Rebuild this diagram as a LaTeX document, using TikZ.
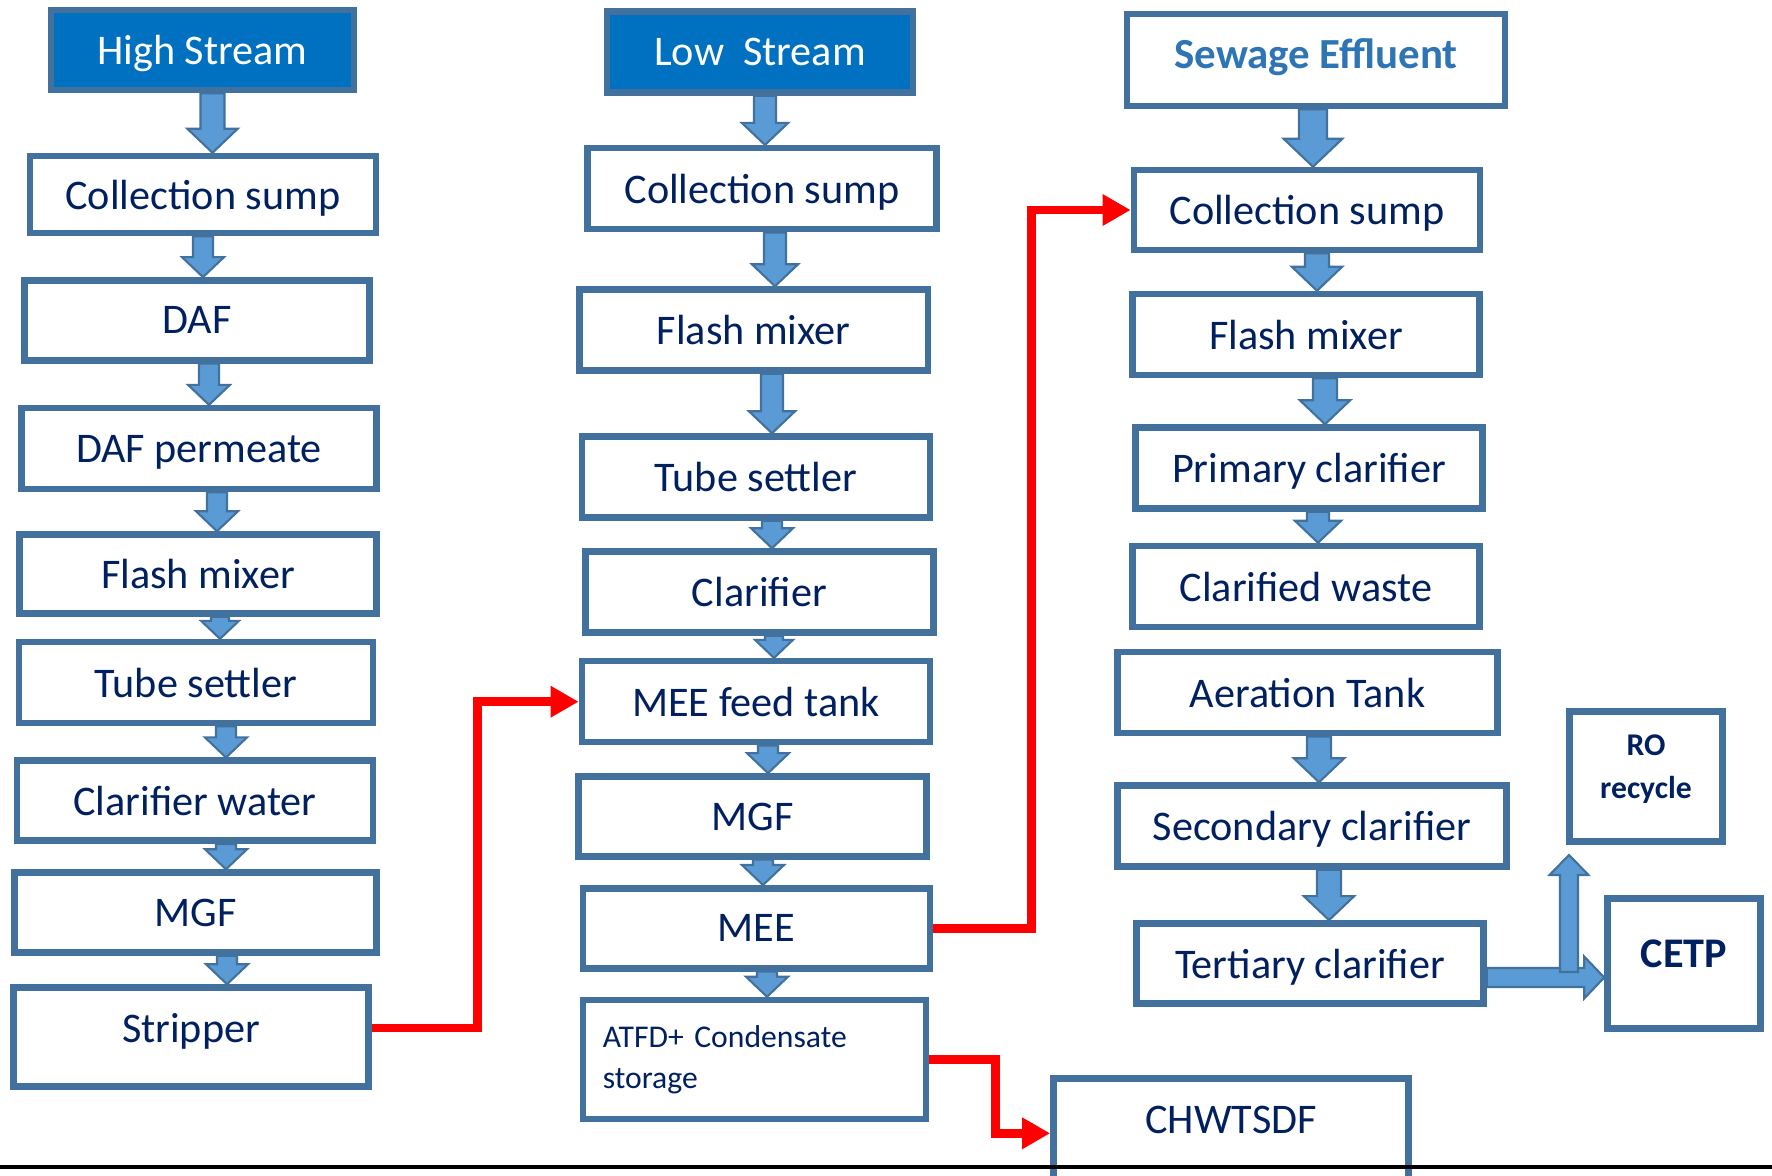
\documentclass[tikz,border=0pt]{standalone}
\usepackage{fontspec}
\setmainfont{Carlito}
\usepackage{tikz}
\usetikzlibrary{calc,arrows.meta}
\definecolor{boxline}{RGB}{65,113,156}
\definecolor{arrowfill}{RGB}{91,155,213}
\definecolor{headfill}{RGB}{0,112,192}
\definecolor{navytext}{RGB}{0,32,96}
\definecolor{sewageblue}{RGB}{46,117,182}

\tikzset{
  box/.style={draw=boxline, line width=1.85pt, fill=white, text=navytext,
    font=\fontsize{12}{14}\selectfont, inner sep=2pt, text depth=0pt},
  stream/.style={box, fill=headfill, text=white},
  flowarrow/.style={fill=arrowfill, draw=boxline, line width=0.6pt},
  redflow/.style={draw=red, line width=2.5pt, -{Triangle[length=8pt,width=8.5pt]}}
}

% block arrow: from, to, x (px), size
\newcommand{\flowdown}[4]{%
  \path[flowarrow] let \p1=(#1.south), \p2=(#2.north), \p3=(#3,0) in
    (\x3-#4*0.10cm,\y1) -- (\x3+#4*0.10cm,\y1) -- (\x3+#4*0.10cm,\y2+#4*0.20cm)
    -- (\x3+#4*0.21cm,\y2+#4*0.20cm) -- (\x3,\y2) -- (\x3-#4*0.21cm,\y2+#4*0.20cm)
    -- (\x3-#4*0.10cm,\y2+#4*0.20cm) -- cycle;}

\begin{document}
\begin{tikzpicture}[x=0.01cm, y=-0.01cm]
\useasboundingbox (0,0) rectangle (1772,1175);
\clip (0,0) rectangle (1772,1175);

% high stream
\node[stream, minimum width=3.03cm, minimum height=0.80cm] (h0) at (202.5,50) {High Stream};
\node[box, minimum width=3.46cm, minimum height=0.77cm] (h1) at (203,194.5) {Collection sump};
\node[box, minimum width=3.45cm, minimum height=0.80cm] (h2) at (197,320.4) {DAF};
\node[box, minimum width=3.55cm, minimum height=0.81cm] (h3) at (199,448.6) {DAF permeate};
\node[box, minimum width=3.57cm, minimum height=0.79cm] (h4) at (198,574) {Flash mixer};
\node[box, minimum width=3.54cm, minimum height=0.81cm] (h5) at (196,682.6) {Tube settler};
\node[box, minimum width=3.56cm, minimum height=0.80cm] (h6) at (195,800.7) {Clarifier water};
\node[box, minimum width=3.62cm, minimum height=0.80cm] (h7) at (195.5,912.5) {MGF};
\node[box, minimum width=3.55cm, minimum height=0.99cm, text depth=0.18cm] (h8) at (191,1037) {Stripper};

% low stream
\node[stream, minimum width=3.06cm, minimum height=0.81cm] (l0) at (760,52) {Low\ \ Stream};
\node[box, minimum width=3.49cm, minimum height=0.81cm] (l1) at (762,188.7) {Collection sump};
\node[box, minimum width=3.48cm, minimum height=0.81cm] (l2) at (753.7,330) {Flash mixer};
\node[box, minimum width=3.48cm, minimum height=0.81cm] (l3) at (756,477) {Tube settler};
\node[box, minimum width=3.48cm, minimum height=0.81cm] (l4) at (759.4,592) {Clarifier};
\node[box, minimum width=3.48cm, minimum height=0.81cm] (l5) at (756,701.7) {MEE feed tank};
\node[box, minimum width=3.48cm, minimum height=0.80cm] (l6) at (752.6,816.4) {MGF};
\node[box, minimum width=3.47cm, minimum height=0.80cm] (l7) at (756.5,928.3) {MEE};
\node[box, minimum width=3.43cm, minimum height=1.19cm, text width=3.03cm, align=left,
  text depth=, font=\fontsize{9}{11.8}\selectfont] (l8) at (754.4,1059.5) {ATFD+ Condensate\\storage};

% sewage
\node[box, minimum width=3.78cm, minimum height=0.92cm, text=sewageblue, text depth=0.13cm,
  font=\bfseries\fontsize{12.2}{14}\selectfont] (s0) at (1316,60) {Sewage Effluent};
\node[box, minimum width=3.46cm, minimum height=0.80cm] (s1) at (1307,210) {Collection sump};
\node[box, minimum width=3.47cm, minimum height=0.81cm] (s2) at (1306,334.5) {Flash mixer};
\node[box, minimum width=3.47cm, minimum height=0.81cm] (s3) at (1309,468) {Primary clarifier};
\node[box, minimum width=3.47cm, minimum height=0.81cm] (s4) at (1306,586.5) {Clarified waste};
\node[box, minimum width=3.80cm, minimum height=0.81cm] (s5) at (1307.5,692.7) {Aeration Tank};
\node[box, minimum width=3.89cm, minimum height=0.81cm] (s6) at (1312,826) {Secondary clarifier};
\node[box, minimum width=3.47cm, minimum height=0.80cm] (s7) at (1310,963.4) {Tertiary clarifier};
\node[box, minimum width=1.53cm, minimum height=1.30cm, align=center, text depth=0.2cm,
  font=\bfseries\fontsize{9}{12}\selectfont] (ro) at (1646,776.7) {RO\\recycle};
\node[box, minimum width=1.53cm, minimum height=1.30cm, text depth=0.2cm,
  font=\bfseries\fontsize{12}{14}\selectfont] (cetp) at (1684,963.3) {CETP};
\node[box, minimum width=3.55cm, anchor=north, inner ysep=0.15cm, text height=0.40cm,
  text depth=1cm] (chw) at (1231,1075) {CHWTSDF};

% block arrows
\flowdown{h0}{h1}{212.5}{1.2}
\flowdown{h1}{h2}{203}{1}
\flowdown{h2}{h3}{209}{1}
\flowdown{h3}{h4}{217}{1}
\flowdown{h4}{h5}{220}{0.9}
\flowdown{h5}{h6}{226}{1}
\flowdown{h6}{h7}{226}{1}
\flowdown{h7}{h8}{227}{1}

\flowdown{l0}{l1}{765}{1.1}
\flowdown{l1}{l2}{775}{1.1}
\flowdown{l2}{l3}{772}{1.1}
\flowdown{l3}{l4}{772}{1}
\flowdown{l4}{l5}{774}{0.9}
\flowdown{l5}{l6}{768}{1}
\flowdown{l6}{l7}{763}{1}
\flowdown{l7}{l8}{767}{1}

\flowdown{s0}{s1}{1313}{1.4}
\flowdown{s1}{s2}{1317}{1.2}
\flowdown{s2}{s3}{1325}{1.2}
\flowdown{s3}{s4}{1318}{1.1}
\flowdown{s5}{s6}{1319}{1.2}
\flowdown{s6}{s7}{1329}{1.2}

% tertiary to CETP, and up to RO
\coordinate (split) at (1569,972);
\path[flowarrow] let \p1=(s7.east), \p2=(cetp.west), \p3=(0,977.5) in
  (\x1,\y3+0.095cm) -- (\x2-0.20cm,\y3+0.095cm) -- (\x2-0.20cm,\y3+0.21cm) -- (\x2,\y3)
  -- (\x2-0.20cm,\y3-0.21cm) -- (\x2-0.20cm,\y3-0.095cm) -- (\x1,\y3-0.095cm) -- cycle;
\path[flowarrow] let \p1=(split), \p2=(ro.south) in
  (\x1-0.09cm,\y1) -- (\x1+0.09cm,\y1) -- (\x1+0.09cm,\y2-0.30cm) -- (\x1+0.195cm,\y2-0.30cm)
  -- (\x1,\y2-0.10cm) -- (\x1-0.195cm,\y2-0.30cm) -- (\x1-0.09cm,\y2-0.30cm) -- cycle;

% red transfers
\draw[redflow] ([yshift=0.09cm]h8.east) -- ++(105.5,0) |- (l5.west);
\draw[redflow] (l7.east) -- ++(98,0) |- (s1.west);
\draw[redflow] (l8.east) -- ++(66,0) |- (chw.base west);

\draw[line width=0.9pt] (0,1167) -- (1772,1167);
\end{tikzpicture}
\end{document}
